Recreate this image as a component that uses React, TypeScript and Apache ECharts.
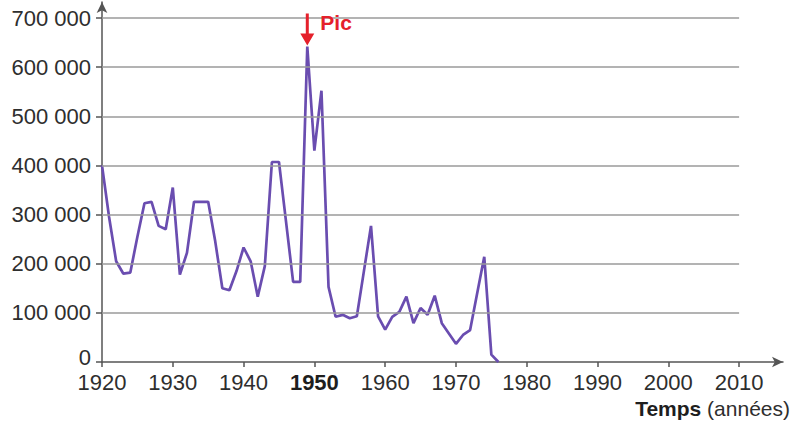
import React, { useEffect, useRef } from "react";
import * as echarts from "echarts";

const years = [
  1920, 1921, 1922, 1923, 1924, 1925, 1926, 1927, 1928, 1929,
  1930, 1931, 1932, 1933, 1934, 1935, 1936, 1937, 1938, 1939,
  1940, 1941, 1942, 1943, 1944, 1945, 1946, 1947, 1948, 1949,
  1950, 1951, 1952, 1953, 1954, 1955, 1956, 1957, 1958, 1959,
  1960, 1961, 1962, 1963, 1964, 1965, 1966, 1967, 1968, 1969,
  1970, 1971, 1972, 1973, 1974, 1975, 1976,
];
const values = [
  400000, 295000, 205000, 180000, 182000, 255000, 323000, 326000, 277000, 270000,
  355000, 178000, 222000, 326000, 326000, 326000, 245000, 150000, 146000, 185000,
  233000, 205000, 133000, 195000, 407000, 407000, 285000, 163000, 163000, 642000,
  430000, 552000, 153000, 92000, 96000, 89000, 93000, 185000, 277000, 93000,
  66000, 92000, 102000, 133000, 79000, 110000, 96000, 135000, 79000, 58000,
  37000, 55000, 65000, 140000, 214000, 15000, 0,
];
const xTicks = [1920, 1930, 1940, 1950, 1960, 1970, 1980, 1990, 2000, 2010];
const yTicks = [0, 100000, 200000, 300000, 400000, 500000, 600000, 700000];
const peakYear = 1949;
const peakLabel = "Pic";
const xTitleBold = "Temps";
const xTitleRest = " (années)";

const FONT = "Liberation Sans";

export default function App() {
  const ref = useRef<HTMLDivElement>(null);
  useEffect(() => {
    if (!ref.current) return;
    const chart = echarts.init(ref.current, null, { renderer: "svg" });
    const peakIdx = years.indexOf(peakYear);
    const gridLines = yTicks
      .filter((v) => v > 0)
      .map((v) => [
        { coord: [xTicks[0], v] },
        { coord: [xTicks[xTicks.length - 1], v] },
      ]);
    chart.setOption({
      animation: false,
      backgroundColor: "#ffffff",
      grid: {
        left: 102,
        right: 9,
        top: 2,
        bottom: 64,
        containLabel: false,
        outerBoundsMode: "none",
      },
      xAxis: {
        type: "value",
        min: 1920,
        max: 2016.2,
        splitLine: { show: false },
        axisLine: {
          show: true,
          symbol: ["none", "arrow"],
          symbolSize: [8, 11],
          lineStyle: { color: "#555", width: 1.5 },
        },
        axisTick: {
          show: true,
          customValues: xTicks,
          length: 5,
          lineStyle: { color: "#555", width: 1.5 },
        },
        axisLabel: {
          customValues: xTicks,
          margin: 10,
          color: "#2e2e2e",
          fontFamily: FONT,
          fontSize: 22,
          lineHeight: 20,
          formatter: (v: number) => (v === 1950 ? "{b|" + v + "}" : String(v)),
          rich: {
            b: { fontWeight: "bold", fontFamily: FONT, fontSize: 22, lineHeight: 20, color: "#1e1e1e" },
          },
        },
      },
      yAxis: {
        type: "value",
        min: 0,
        max: 732600,
        splitLine: { show: false },
        axisLine: {
          show: true,
          symbol: ["none", "arrow"],
          symbolSize: [8, 11],
          lineStyle: { color: "#555", width: 1.5 },
        },
        axisTick: {
          show: true,
          customValues: yTicks,
          length: 6,
          lineStyle: { color: "#555", width: 1.5 },
        },
        axisLabel: {
          customValues: yTicks,
          margin: 11,
          color: "#2e2e2e",
          fontFamily: FONT,
          fontSize: 22,
          lineHeight: 17,
          formatter: (v: number) => (v === 0 ? "{z|0}" : v / 1000 + " 000"),
          rich: {
            z: {
              fontFamily: FONT,
              fontSize: 22,
              lineHeight: 17,
              color: "#2e2e2e",
              padding: [0, 0, 10, 0],
            },
          },
        },
      },
      series: [
        {
          type: "scatter",
          data: [],
          z: 1,
          silent: true,
          markLine: {
            silent: true,
            symbol: "none",
            label: { show: false },
            lineStyle: { color: "#9a9a9a", width: 1.5, type: "solid" },
            data: gridLines,
          },
        },
        {
          type: "line",
          z: 3,
          data: years.map((y, i) => [y, values[i]]),
          showSymbol: false,
          symbol: "none",
          lineStyle: { color: "#6a4db0", width: 2.7 },
          markPoint: {
            silent: true,
            symbol: "path://M5.5,0 L8.5,0 L8.5,20 L14,20 L7,32 L0,20 L5.5,20 Z",
            symbolSize: [14, 32],
            symbolOffset: [0, -17],
            itemStyle: { color: "#e5202b" },
            label: {
              show: true,
              position: "right",
              distance: 6,
              offset: [0, -7],
              formatter: peakLabel,
              color: "#e5202b",
              fontFamily: FONT,
              fontWeight: "bold",
              fontSize: 21,
            },
            data: [{ coord: [years[peakIdx], values[peakIdx]] }],
          },
        },
      ],
      graphic: [
        {
          type: "text",
          right: 2,
          top: 398,
          style: {
            text: "{b|" + xTitleBold + "}{r|" + xTitleRest + "}",
            rich: {
              b: { fontFamily: FONT, fontWeight: "bold", fontSize: 21, fill: "#1e1e1e" },
              r: { fontFamily: FONT, fontSize: 21, fill: "#2e2e2e" },
            },
          },
        },
      ],
    });
    return () => chart.dispose();
  }, []);
  return (
    <div
      ref={ref}
      style={{ position: "absolute", left: 0, top: 0, width: 792, height: 426 }}
    />
  );
}
